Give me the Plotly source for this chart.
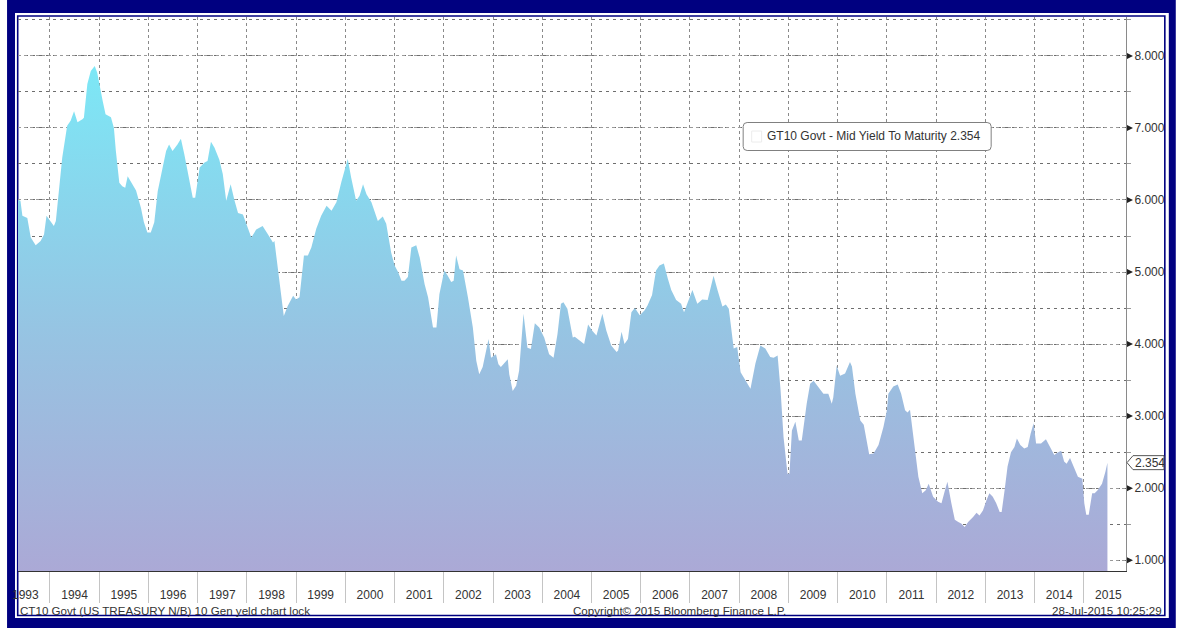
import plotly.graph_objects as go
import pandas as pd

# ---- data (decimal year, 10y yield %) ----
t_year = [
    1993.35, 1993.40, 1993.44, 1993.54, 1993.61, 1993.71, 1993.81, 1993.88, 1993.93,
    1994.01, 1994.08, 1994.12, 1994.18, 1994.25, 1994.35, 1994.42, 1994.49, 1994.56,
    1994.66, 1994.69, 1994.76, 1994.83, 1994.91, 1994.96,
    1995.07, 1995.13, 1995.24, 1995.30, 1995.34, 1995.41, 1995.47, 1995.53, 1995.58,
    1995.64, 1995.75, 1995.85, 1995.91, 1995.98,
    1996.05, 1996.12, 1996.19, 1996.29, 1996.36, 1996.42, 1996.49, 1996.59, 1996.66,
    1996.73, 1996.80, 1996.90, 1996.95,
    1997.04, 1997.14, 1997.20, 1997.27, 1997.34, 1997.44, 1997.51, 1997.58, 1997.67,
    1997.75, 1997.82, 1997.92,
    1998.02, 1998.09, 1998.19, 1998.32, 1998.43, 1998.53, 1998.56, 1998.66, 1998.75,
    1998.83, 1998.94,
    1999.00, 1999.07, 1999.16, 1999.24, 1999.31, 1999.41, 1999.51, 1999.62, 1999.72,
    1999.82, 1999.92,
    2000.05, 2000.12, 2000.22, 2000.29, 2000.36, 2000.43, 2000.53, 2000.66, 2000.76,
    2000.83, 2000.93,
    2001.00, 2001.07, 2001.14, 2001.20, 2001.27, 2001.34, 2001.44, 2001.51, 2001.61,
    2001.68, 2001.78, 2001.85, 2001.91,
    2002.01, 2002.08, 2002.15, 2002.20, 2002.25, 2002.32, 2002.39, 2002.49, 2002.59,
    2002.66, 2002.72, 2002.79, 2002.86, 2002.91, 2002.96,
    2003.01, 2003.06, 2003.11, 2003.16, 2003.30, 2003.33, 2003.40, 2003.47, 2003.53,
    2003.62, 2003.70, 2003.77, 2003.85, 2003.94,
    2004.04, 2004.14, 2004.23, 2004.31, 2004.38, 2004.43, 2004.51, 2004.62, 2004.66,
    2004.76, 2004.85, 2004.93,
    2005.01, 2005.10, 2005.22, 2005.30, 2005.40, 2005.51, 2005.54, 2005.61, 2005.67,
    2005.74, 2005.81, 2005.88, 2005.98,
    2006.08, 2006.14, 2006.23, 2006.31, 2006.38, 2006.47, 2006.55, 2006.62, 2006.72,
    2006.82, 2006.88, 2006.95,
    2007.05, 2007.15, 2007.25, 2007.36, 2007.48, 2007.56, 2007.66, 2007.73, 2007.79,
    2007.89, 2007.96,
    2008.03, 2008.13, 2008.23, 2008.33, 2008.43, 2008.53, 2008.63, 2008.70, 2008.78,
    2008.84, 2008.90, 2008.98,
    2009.02, 2009.07, 2009.14, 2009.21, 2009.27, 2009.37, 2009.44, 2009.51, 2009.61,
    2009.71, 2009.81, 2009.88, 2009.91, 2009.98,
    2010.05, 2010.15, 2010.25, 2010.29, 2010.36, 2010.46, 2010.53, 2010.60, 2010.64,
    2010.73, 2010.83, 2010.93,
    2011.00, 2011.03, 2011.13, 2011.22, 2011.29, 2011.37, 2011.42, 2011.47, 2011.54,
    2011.64, 2011.72, 2011.79, 2011.85, 2011.94,
    2012.04, 2012.11, 2012.18, 2012.23, 2012.31, 2012.38, 2012.45, 2012.51, 2012.58,
    2012.65, 2012.75, 2012.82, 2012.88, 2012.95,
    2013.02, 2013.08, 2013.15, 2013.22, 2013.29, 2013.33, 2013.39, 2013.45, 2013.52,
    2013.59, 2013.64, 2013.71, 2013.79, 2013.86, 2013.92, 2013.98,
    2014.03, 2014.13, 2014.23, 2014.29, 2014.40, 2014.46, 2014.54, 2014.60, 2014.65,
    2014.72, 2014.80, 2014.88, 2014.97,
    2015.01, 2015.05, 2015.10, 2015.17, 2015.22, 2015.28, 2015.37, 2015.44, 2015.48,
]
yield_pct = [
    6.00, 5.99, 5.78, 5.75, 5.48, 5.37, 5.43, 5.52, 5.78,
    5.71, 5.64, 5.71, 6.08, 6.59, 7.03, 7.10, 7.23, 7.08,
    7.12, 7.14, 7.61, 7.79, 7.86, 7.77,
    7.38, 7.19, 7.15, 7.00, 6.68, 6.24, 6.19, 6.17, 6.33,
    6.26, 6.13, 5.89, 5.69, 5.55,
    5.55, 5.69, 6.12, 6.45, 6.68, 6.77, 6.68, 6.77, 6.85,
    6.63, 6.36, 6.03, 6.03,
    6.45, 6.52, 6.54, 6.81, 6.73, 6.56, 6.36, 5.99, 6.22,
    5.99, 5.82, 5.80,
    5.62, 5.48, 5.59, 5.64, 5.52, 5.41, 5.43, 4.88, 4.39,
    4.53, 4.67,
    4.62, 4.65, 5.23, 5.23, 5.34, 5.60, 5.78, 5.92, 5.85,
    5.97, 6.25,
    6.57, 6.31, 5.99, 6.06, 6.22, 6.08, 5.97, 5.71, 5.77,
    5.67, 5.27,
    5.09, 5.00, 4.88, 4.88, 4.93, 5.34, 5.37, 5.20, 4.83,
    4.65, 4.23, 4.23, 4.69,
    5.02, 4.95, 4.86, 4.88, 5.23, 5.04, 5.02, 4.65, 4.23,
    3.77, 3.58, 3.68, 3.91, 4.07, 3.81,
    3.84, 3.86, 3.72, 3.68, 3.79, 3.58, 3.35, 3.42, 3.63,
    4.42, 3.95, 3.93, 4.29, 4.23,
    4.09, 3.86, 3.81, 4.14, 4.56, 4.58, 4.49, 4.09, 4.10,
    4.05, 4.00, 4.27,
    4.19, 4.12, 4.42, 4.19, 3.98, 3.89, 3.91, 4.17, 4.00,
    4.07, 4.44, 4.50, 4.40,
    4.47, 4.54, 4.68, 5.02, 5.09, 5.12, 4.91, 4.75, 4.61,
    4.56, 4.44, 4.56,
    4.75, 4.56, 4.62, 4.61, 4.95, 4.75, 4.52, 4.55, 4.49,
    3.94, 3.96,
    3.61, 3.50, 3.38, 3.73, 3.98, 3.94, 3.82, 3.81, 3.84,
    3.36, 2.71, 2.20,
    2.20, 2.80, 2.92, 2.66, 2.66, 3.17, 3.45, 3.49, 3.40,
    3.31, 3.31, 3.17, 3.26, 3.70,
    3.56, 3.59, 3.75, 3.69, 3.31, 2.94, 2.88, 2.64, 2.47,
    2.48, 2.60, 2.85,
    3.08, 3.31, 3.41, 3.44, 3.31, 3.08, 3.05, 3.09, 2.67,
    2.16, 1.93, 1.97, 2.06, 1.88,
    1.81, 1.79, 1.97, 2.09, 1.79, 1.56, 1.53, 1.51, 1.46,
    1.53, 1.60, 1.66, 1.62, 1.69,
    1.83, 1.93, 1.88, 1.79, 1.67, 1.67, 1.97, 2.30, 2.50,
    2.57, 2.69, 2.60, 2.55, 2.57, 2.76, 2.90,
    2.62, 2.62, 2.68, 2.60, 2.46, 2.49, 2.52, 2.37, 2.34,
    2.42, 2.30, 2.16, 2.13,
    1.79, 1.63, 1.63, 1.93, 1.93, 1.97, 2.06, 2.23, 2.354,
]
y_ticks = [1, 2, 3, 4, 5, 6, 7, 8]
last_value = 2.354
info_label = "GT10 Govt - Mid Yield To Maturity 2.354"
footer_left = "CT10 Govt (US TREASURY N/B) 10 Gen yeld chart lock"
footer_mid = "Copyright\u00a9 2015 Bloomberg Finance L.P."
footer_right = "28-Jul-2015 10:25:29"


def to_date(t):
    y = int(t)
    start = pd.Timestamp(y, 1, 1)
    end = pd.Timestamp(y + 1, 1, 1)
    return start + (end - start) * (t - y)


dates = [to_date(t) for t in t_year]

# ---- layout geometry ----
FW, FH = 1177, 628
L, R, T, B = 17, 1130, 17, 571
PW, PH = R - L, B - T
Y_RANGE = [0.85, 8.54]
X_RANGE = ["1993-05-09", "2015-11-10"]
NAVY = "#000080"
FONT = "Liberation Sans"


def px_x(px):
    return (px - L) / PW


def px_y(py):
    return (B - py) / PH


def val_y(v):
    return (v - Y_RANGE[0]) / (Y_RANGE[1] - Y_RANGE[0])


fig = go.Figure()
fig.add_trace(go.Scatter(
    x=dates, y=yield_pct, mode="lines",
    line=dict(width=0, color="rgba(0,0,0,0)"),
    fill="tozeroy",
    fillgradient=dict(type="vertical",
                      colorscale=[[0, "#aba9d6"], [0.45, "#97c3e2"], [1, "#7be9f7"]],
                      start=0.85, stop=8.0),
    hoverinfo="skip", showlegend=False,
))

shapes = []
# frame
shapes.append(dict(type="rect", xref="paper", yref="paper", layer="below",
                   x0=px_x(6), x1=px_x(1180), y0=px_y(-2), y1=px_y(630),
                   fillcolor=NAVY, line=dict(width=0)))
shapes.append(dict(type="rect", xref="paper", yref="paper", layer="below",
                   x0=px_x(14), x1=px_x(1173), y0=px_y(13), y1=px_y(618),
                   fillcolor="white", line=dict(width=0)))
shapes.append(dict(type="rect", xref="paper", yref="paper", layer="below",
                   x0=px_x(16.7), x1=px_x(1169), y0=px_y(16), y1=px_y(615.5),
                   fillcolor="white", line=dict(width=1.6, color=NAVY)))
# tick triangles on right axis
for v in y_ticks:
    shapes.append(dict(type="path", xref="paper", yref="paper",
                       xsizemode="pixel", ysizemode="pixel",
                       xanchor=1, yanchor=val_y(v),
                       path="M 1 -3 L 7 0 L 1 3 Z",
                       fillcolor="#222", line=dict(width=0)))
# last value tag
shapes.append(dict(type="path", xref="paper", yref="paper",
                   xsizemode="pixel", ysizemode="pixel",
                   xanchor=1, yanchor=val_y(last_value),
                   path="M 1 0 L 7 7 L 38 7 L 38 -7 L 7 -7 Z",
                   fillcolor="white", line=dict(width=1, color="#555")))
# info box with rounded corners
bw, bh, r = 248, 28, 4
hx, hy = bw / 2, bh / 2
rpath = (f"M {-hx + r} {hy} L {hx - r} {hy} Q {hx} {hy} {hx} {hy - r} "
         f"L {hx} {-hy + r} Q {hx} {-hy} {hx - r} {-hy} "
         f"L {-hx + r} {-hy} Q {-hx} {-hy} {-hx} {-hy + r} "
         f"L {-hx} {hy - r} Q {-hx} {hy} {-hx + r} {hy} Z")
shapes.append(dict(type="path", xref="paper", yref="paper",
                   xsizemode="pixel", ysizemode="pixel",
                   xanchor=px_x(870), yanchor=px_y(136.5),
                   path=rpath, fillcolor="white", line=dict(width=1, color="#808080")))
shapes.append(dict(type="rect", xref="paper", yref="paper",
                   x0=px_x(754), x1=px_x(764), y0=px_y(142), y1=px_y(131),
                   fillcolor="white", line=dict(width=1, color="#ececec")))

annotations = [
    dict(text=info_label, xref="paper", yref="paper", x=px_x(877), y=px_y(136.5),
         xanchor="center", yanchor="middle", showarrow=False,
         font=dict(family=FONT, size=12, color="#333")),
    dict(text=f"{last_value:.3f}", xref="paper", yref="paper", x=1, y=val_y(last_value),
         xanchor="left", yanchor="middle", xshift=7, showarrow=False,
         font=dict(family=FONT, size=12, color="#333")),
    dict(text=footer_left, xref="paper", yref="paper", x=px_x(17), y=px_y(610.5),
         xanchor="left", yanchor="middle", showarrow=False,
         font=dict(family=FONT, size=11.6, color="#333")),
    dict(text=footer_mid, xref="paper", yref="paper", x=px_x(681.5), y=px_y(610.5),
         xanchor="center", yanchor="middle", showarrow=False,
         font=dict(family=FONT, size=11.6, color="#333")),
    dict(text=footer_right, xref="paper", yref="paper", x=px_x(1168), y=px_y(610.5),
         xanchor="right", yanchor="middle", showarrow=False,
         font=dict(family=FONT, size=11.6, color="#333")),
]

fig.update_layout(
    width=FW, height=FH, autosize=False,
    margin=dict(l=L, r=FW - R, t=T, b=FH - B, pad=0),
    paper_bgcolor="white", plot_bgcolor="white",
    font=dict(family=FONT, size=12, color="#333"),
    shapes=shapes, annotations=annotations, showlegend=False,
    xaxis=dict(
        type="date", range=X_RANGE, dtick="M12", tick0="1993-01-01",
        ticklabelmode="period", tickformat="%Y",
        ticks="outside", ticklen=31, tickcolor="#c4c4c4", tickwidth=1,
        ticklabelstandoff=-18,
        showgrid=True, gridcolor="#8a8a8a", griddash="dot", gridwidth=1,
        showline=True, linecolor="#333", linewidth=1,
        tickfont=dict(family=FONT, size=12, color="#333"),
        zeroline=False, fixedrange=True,
    ),
    yaxis=dict(
        side="right", range=Y_RANGE, tickvals=y_ticks, tickformat=".3f",
        ticks="", ticklabelstandoff=5,
        showgrid=True, gridcolor="#9a9a9a", griddash="dot", gridwidth=1,
        minor=dict(dtick=0.5, tick0=0, showgrid=True, gridcolor="#6e6e6e",
                   griddash="3px,4px", gridwidth=1,
                   ticks="outside", ticklen=4, tickcolor="#9a9a9a"),
        showline=True, linecolor="#8a8a8a", linewidth=1,
        tickfont=dict(family=FONT, size=12, color="#333"),
        zeroline=False, fixedrange=True,
    ),
)

fig.write_html(
    "out.html",
    config={"displayModeBar": False},
    post_script="document.body.style.margin='0px';document.body.style.overflow='hidden';",
)
